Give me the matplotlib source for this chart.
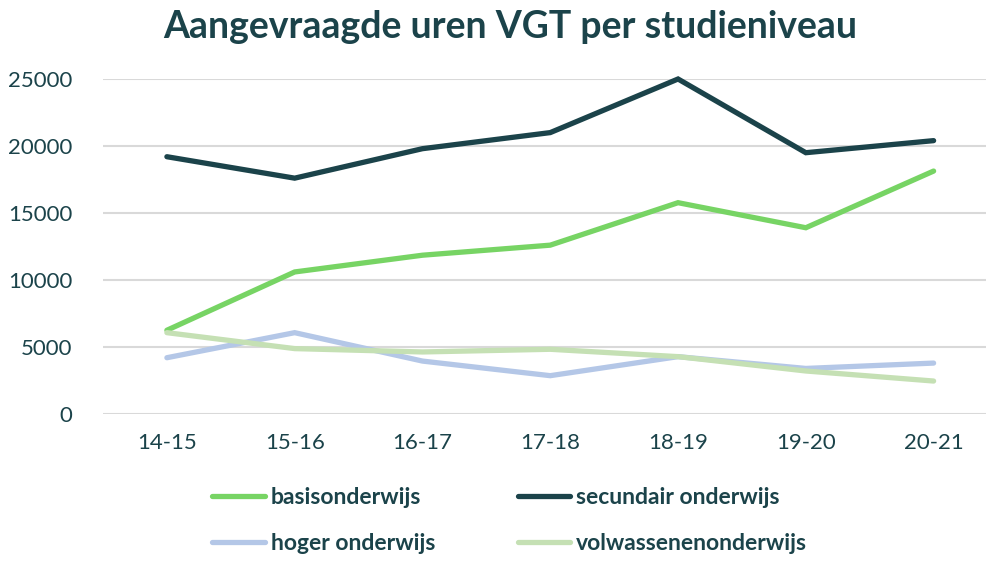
import matplotlib
matplotlib.use("Agg")
import matplotlib.pyplot as plt

# data
years = ["14-15", "15-16", "16-17", "17-18", "18-19", "19-20", "20-21"]
basis = [6250, 10600, 11850, 12600, 15770, 13900, 18130]
secundair = [19200, 17600, 19800, 21000, 25000, 19500, 20400]
hoger = [4200, 6070, 3950, 2860, 4280, 3400, 3800]
volwassenen = [6070, 4880, 4630, 4830, 4280, 3210, 2460]

names = ["basisonderwijs", "secundair onderwijs", "hoger onderwijs", "volwassenenonderwijs"]
colors = ["#77D464", "#1B434A", "#B4C7E7", "#C5E0B4"]
text_col = "#1B434A"

plt.rcParams['font.family'] = ['Lato', 'DejaVu Sans']

fig = plt.figure(figsize=(9.86, 5.63), dpi=100)
ax = fig.add_axes([103/986, 1 - 414/563, 1 - 103/986, (414 - 79)/563])

x = list(range(len(years)))
lines = []
for vals, name, c in zip([basis, secundair, hoger, volwassenen], names, colors):
    ln, = ax.plot(x, vals, color=c, lw=3.8, label=name, solid_capstyle='round',
                  solid_joinstyle='miter', clip_on=False)
    lines.append(ln)

ax.set_xlim(-0.5, 6.41)
ax.set_ylim(0, 25000)
ax.set_yticks(range(0, 25001, 5000))
ax.set_xticks(x)
ax.set_xticklabels(years)
ax.grid(axis='y', color='#D9D9D9', lw=1.5)
ax.set_axisbelow(True)
for s in ax.spines.values():
    s.set_visible(False)
ax.tick_params(length=0, labelsize=16, colors=text_col)
ax.tick_params(axis='y', pad=22)
ax.tick_params(axis='x', pad=14)

fig.text(0.517, 0.952, "Aangevraagde uren VGT per studieniveau", ha='center', va='center',
         fontsize=27, fontweight='bold', color=text_col)

# legend fills column-wise, so reorder to get rows: basis/secundair, hoger/volwassenen
order = [0, 2, 1, 3]
leg = fig.legend([lines[i] for i in order], [names[i] for i in order],
                 loc='center', bbox_to_anchor=(0.517, 0.075), ncol=2, frameon=False,
                 prop={'weight': 'bold', 'size': 16.5}, handlelength=2.3, handletextpad=0.25,
                 columnspacing=3.6, labelspacing=1.1)
for t in leg.get_texts():
    t.set_color(text_col)

fig.savefig("out.png", dpi=100)
